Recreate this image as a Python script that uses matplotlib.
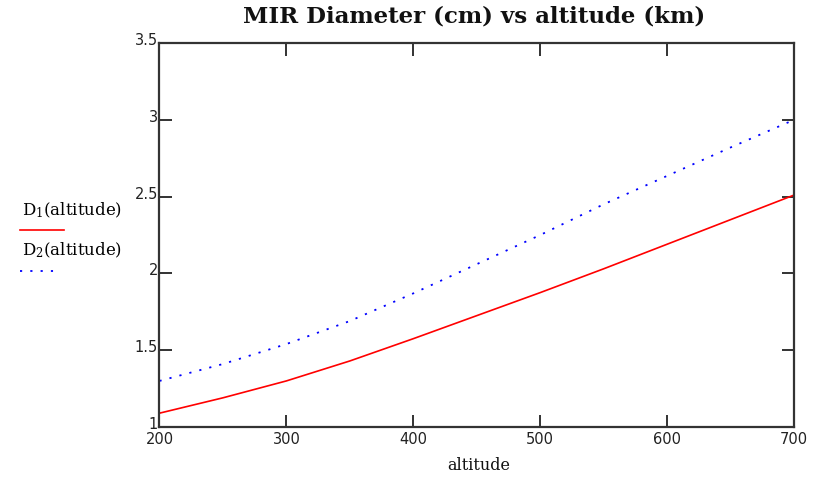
import matplotlib
matplotlib.use("Agg")
import matplotlib.pyplot as plt
import matplotlib.transforms as mtransforms

altitude = [200, 250, 300, 350, 400, 450, 500, 550, 600, 650, 700]
D1 = [1.09, 1.19, 1.30, 1.43, 1.575, 1.725, 1.875, 2.03, 2.19, 2.35, 2.51]
D2 = [1.30, 1.41, 1.54, 1.69, 1.87, 2.06, 2.25, 2.45, 2.635, 2.82, 3.00]
xticks = [200, 300, 400, 500, 600, 700]
yticks = [1, 1.5, 2, 2.5, 3, 3.5]
yticklabels = ["1", "1.5", "2", "2.5", "3", "3.5"]

fig = plt.figure(figsize=(8.23, 4.78), dpi=100)
ax = fig.add_axes([0.1938, 0.1067, 0.7710, 0.8033])

ax.plot(altitude, D1, color="#ff0000", lw=1.2, solid_capstyle="butt")
ax.plot(altitude, D2, color="#0000ff", lw=1.3, linestyle=(0, (1.2, 4.5)))

ax.set_xlim(200, 700)
ax.set_ylim(1, 3.5)
ax.set_xticks(xticks)
ax.set_xticklabels([str(x) for x in xticks], fontsize=10.5, family="DejaVu Sans", color="#222222")
ax.set_yticks(yticks)
ax.set_yticklabels(yticklabels, fontsize=10.5, family="DejaVu Sans", color="#222222")
ax.tick_params(axis="y", pad=1)
ax.tick_params(direction="in", length=9, width=1.3, top=True, right=True, colors="#222222",
               labelcolor="#222222")
offset = mtransforms.ScaledTranslation(0, 4/100, fig.dpi_scale_trans)
for lab in ax.get_yticklabels():
    lab.set_transform(lab.get_transform() + offset)
for s in ax.spines.values():
    s.set_linewidth(1.6)
    s.set_color("#333333")

fig.text(0.576, 1-17/478, "MIR Diameter (cm) vs altitude (km)", ha="center", va="center",
         fontsize=16.5, family="DejaVu Serif", fontweight="bold", color="#111111")
fig.text(479/823, 1-466/478, "altitude", ha="center", va="center",
         fontsize=11.5, family="DejaVu Serif", color="#111111")

# legend at left
fig.text(22/823, 1-210/478, r"D$_1$(altitude)", fontsize=12, family="DejaVu Serif",
         va="center", ha="left", math_fontfamily="dejavuserif")
fig.add_artist(plt.Line2D([20/823, 64/823], [1-230/478]*2, color="#ff0000", lw=1.2))
fig.text(22/823, 1-250/478, r"D$_2$(altitude)", fontsize=12, family="DejaVu Serif",
         va="center", ha="left", math_fontfamily="dejavuserif")
fig.add_artist(plt.Line2D([20/823, 57/823], [1-271/478]*2, color="#0000ff", lw=1.3,
                          linestyle=(0, (1.2, 4.5))))

fig.savefig("out.png", dpi=100)
